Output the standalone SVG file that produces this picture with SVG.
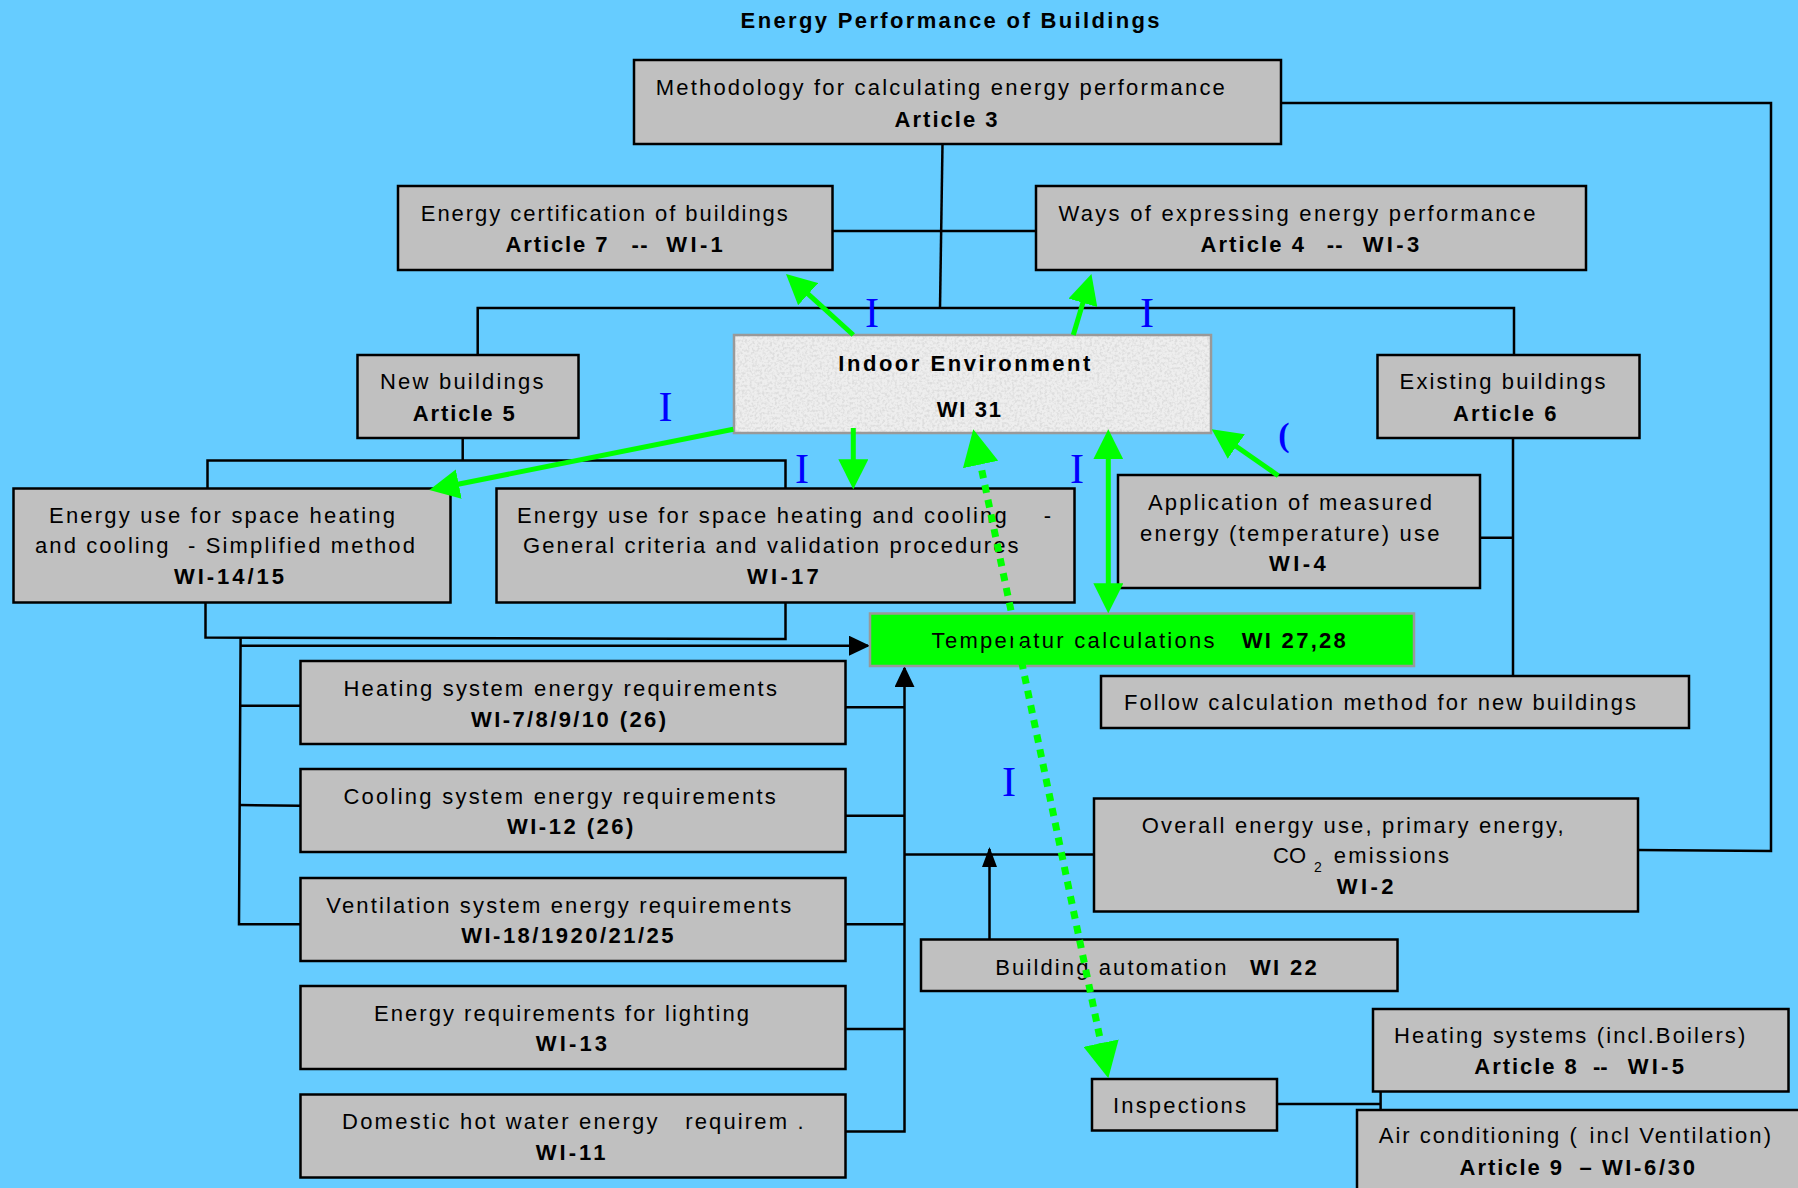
<svg xmlns="http://www.w3.org/2000/svg" width="1798" height="1188" viewBox="0 0 1798 1188">
<style>
.bg{fill:#66ccff}
.box{fill:#c0c0c0;stroke:#000;stroke-width:2.5}
.t{font-family:"Liberation Sans",Arial,sans-serif;font-size:22px;fill:#000}
.b{font-family:"Liberation Sans",Arial,sans-serif;font-size:22px;font-weight:bold;fill:#000}
.sub{font-family:"Liberation Sans",Arial,sans-serif;font-size:14px;fill:#000}
.ln{fill:none;stroke:#000;stroke-width:2.5}
.g{fill:none;stroke:#00ff00;stroke-width:5}
.gd{fill:none;stroke:#00ff00;stroke-width:7;stroke-dasharray:8 7}
.lab{font-family:"Liberation Serif","Times New Roman",serif;font-size:42px;fill:#0000ff}
</style>
<defs>
<marker id="gHead" viewBox="0 0 30 30" refX="20" refY="15" markerWidth="30" markerHeight="30" markerUnits="userSpaceOnUse" orient="auto-start-reverse"><path d="M0,0 L30,15 L0,30 z" fill="#00ff00"/></marker>
<marker id="gHeadBig" viewBox="0 0 36 36" refX="24" refY="18" markerWidth="36" markerHeight="36" markerUnits="userSpaceOnUse" orient="auto-start-reverse"><path d="M0,0 L36,18 L0,36 z" fill="#00ff00"/></marker>
<marker id="bHead" viewBox="0 0 21 20" refX="19" refY="10" markerWidth="21" markerHeight="20" markerUnits="userSpaceOnUse" orient="auto"><path d="M0,0 L21,10 L0,20 z" fill="#000"/></marker>
<marker id="bHeadS" viewBox="0 0 20 15" refX="18" refY="7.5" markerWidth="20" markerHeight="15" markerUnits="userSpaceOnUse" orient="auto"><path d="M0,0 L20,7.5 L0,15 z" fill="#000"/></marker>
<filter id="grain" x="0" y="0" width="1" height="1">
<feTurbulence type="fractalNoise" baseFrequency="0.4" numOctaves="2" seed="7" result="noise"/>
<feColorMatrix in="noise" type="matrix" values="0 0 0 0 0.72  0 0 0 0 0.72  0 0 0 0 0.72  0 0 0 -3 1.75" result="spots"/>
<feComposite in="spots" in2="SourceAlpha" operator="in"/>
</filter>
</defs>
<rect class="bg" x="0" y="0" width="1798" height="1188"/>
<text class="b" x="740.6" y="28" textLength="419">Energy Performance of Buildings</text>

<g id="connectors-black">
<polyline class="ln" points="1281,103 1771,103 1771,851 1638,850"/>
<line class="ln" x1="942.5" y1="144" x2="940" y2="308"/>
<line class="ln" x1="832.5" y1="231" x2="1036" y2="231"/>
<polyline class="ln" points="477.7,355 477.7,308 1514,308 1514,355"/>
<line class="ln" x1="462.7" y1="438" x2="462.7" y2="460.5"/>
<polyline class="ln" points="207.5,488.5 207.5,460.5 785.5,460.5 785.5,491"/>
<polyline class="ln" points="205.5,602.5 205.5,637.5 785.5,639 785.5,602.5"/>
<polyline class="ln" points="240.6,638 239,924.3 300.5,924.3"/>
<line class="ln" x1="239" y1="705.7" x2="300.5" y2="705.7"/>
<line class="ln" x1="239" y1="805" x2="300.5" y2="805.7"/>
<line class="ln" x1="240.6" y1="645.7" x2="868" y2="645.7" marker-end="url(#bHead)"/>
<polyline class="ln" points="845,1131.5 904.5,1131.5 904.5,668" marker-end="url(#bHead)"/>
<line class="ln" x1="845.5" y1="707.3" x2="904.5" y2="707.3"/>
<line class="ln" x1="843" y1="815.7" x2="904.5" y2="815.7"/>
<line class="ln" x1="845.5" y1="924.3" x2="904.5" y2="924.3"/>
<line class="ln" x1="845.5" y1="1029" x2="904.5" y2="1029"/>
<line class="ln" x1="904.5" y1="854.5" x2="1094" y2="854.5"/>
<line class="ln" x1="989.5" y1="939.5" x2="989.5" y2="849" marker-end="url(#bHeadS)"/>
<line class="ln" x1="1469.7" y1="537.7" x2="1513" y2="537.7"/>
<line class="ln" x1="1513" y1="438" x2="1513" y2="676"/>
<line class="ln" x1="1277" y1="1104" x2="1380.6" y2="1104"/>
<line class="ln" x1="1380.6" y1="1091.5" x2="1380.6" y2="1110"/>
</g>

<g id="methodology">
<rect class="box" x="634" y="60" width="647" height="84"/>
<text class="t" x="655.8" y="95" textLength="569">Methodology for calculating energy performance</text>
<text class="b" x="894.6" y="126.7" textLength="103">Article 3</text>
</g>
<g id="certification">
<rect class="box" x="398" y="186" width="434.5" height="84"/>
<text class="t" x="420.8" y="220.7" textLength="367">Energy certification of buildings</text>
<text class="b" x="505.5" y="251.7" textLength="102">Article 7</text>
<text class="b" x="631.5" y="251.7" textLength="16">--</text>
<text class="b" x="666.3" y="251.7" textLength="56.5">WI-1</text>
</g>
<g id="ways">
<rect class="box" x="1036" y="186" width="550" height="84"/>
<text class="t" x="1058.4" y="220.7" textLength="477">Ways of expressing energy performance</text>
<text class="b" x="1200.4" y="251.7" textLength="103.6">Article 4</text>
<text class="b" x="1326.7" y="251.7" textLength="16">--</text>
<text class="b" x="1362.7" y="251.7" textLength="56.6">WI-3</text>
</g>
<g id="indoor-environment">
<rect x="734" y="335" width="477" height="98" fill="#eeeeee"/>
<rect x="734" y="335" width="477" height="98" fill="#fff" filter="url(#grain)"/>
<rect x="734" y="335" width="477" height="98" fill="none" stroke="#999" stroke-width="2.5"/>
<text class="b" x="838.3" y="370.7" textLength="252">Indoor Environment</text>
<text class="b" x="936.7" y="416.7" textLength="64.3">WI 31</text>
</g>
<g id="new-buildings">
<rect class="box" x="357.5" y="355" width="221" height="83"/>
<text class="t" x="380" y="389" textLength="163.5">New buildings</text>
<text class="b" x="412.7" y="420.7" textLength="102">Article 5</text>
</g>
<g id="existing-buildings">
<rect class="box" x="1377.5" y="355" width="262" height="83"/>
<text class="t" x="1399.6" y="389" textLength="206">Existing buildings</text>
<text class="b" x="1453" y="420.7" textLength="103.6">Article 6</text>
</g>
<g id="simplified-method">
<rect class="box" x="13.5" y="488.5" width="437" height="114"/>
<text class="t" x="49" y="522.7" textLength="346">Energy use for space heating</text>
<text class="t" x="35" y="553" textLength="133.4">and cooling</text>
<text class="t" x="188" y="553" textLength="227">- Simplified method</text>
<text class="b" x="174" y="584" textLength="110">WI-14/15</text>
</g>
<g id="general-criteria">
<rect class="box" x="496.5" y="488.5" width="578" height="114"/>
<text class="t" x="517" y="522.7" textLength="489.7">Energy use for space heating and cooling</text>
<text class="t" x="1043.8" y="522.7">-</text>
<text class="t" x="523" y="553" textLength="495.6">General criteria and validation procedures</text>
<text class="b" x="747" y="584" textLength="71.7">WI-17</text>
</g>
<g id="measured-energy">
<rect class="box" x="1118" y="475" width="362" height="113"/>
<text class="t" x="1148" y="510" textLength="284">Application of measured</text>
<text class="t" x="1140" y="540.7" textLength="299.5">energy (temperature) use</text>
<text class="b" x="1269" y="571" textLength="56.8">WI-4</text>
</g>
<g id="temperatur">
<rect x="870" y="613.5" width="544" height="52.5" fill="#00ff00" stroke="#999" stroke-width="2.5"/>
<text class="t" x="931.6" y="648.3" textLength="283">Temperatur calculations</text>
<text class="b" x="1241.8" y="648.3" textLength="104">WI 27,28</text>
</g>
<g id="follow-method">
<rect class="box" x="1101" y="676" width="588" height="52"/>
<text class="t" x="1124" y="710" textLength="512">Follow calculation method for new buildings</text>
</g>
<g id="heating-system">
<rect class="box" x="300.5" y="661" width="545" height="83"/>
<text class="t" x="343.5" y="696" textLength="179.7">Heating system</text>
<text class="t" x="534" y="696" textLength="243">energy requirements</text>
<text class="b" x="471" y="726.7" textLength="195">WI-7/8/9/10 (26)</text>
</g>
<g id="cooling-system">
<rect class="box" x="300.5" y="769" width="545" height="83"/>
<text class="t" x="343.5" y="804" textLength="432.3">Cooling system energy requirements</text>
<text class="b" x="507" y="834.3" textLength="126.4">WI-12 (26)</text>
</g>
<g id="ventilation-system">
<rect class="box" x="300.5" y="878" width="545" height="83"/>
<text class="t" x="326.3" y="912.7" textLength="465">Ventilation system energy requirements</text>
<text class="b" x="461.2" y="943.3" textLength="212.4">WI-18/1920/21/25</text>
</g>
<g id="lighting">
<rect class="box" x="300.5" y="986" width="545" height="83"/>
<text class="t" x="374" y="1021" textLength="375">Energy requirements for lighting</text>
<text class="b" x="535.7" y="1051" textLength="71.4">WI-13</text>
</g>
<g id="domestic-hot-water">
<rect class="box" x="300.5" y="1094.5" width="545" height="83"/>
<text class="t" x="342" y="1129.3" textLength="315.6">Domestic hot water energy</text>
<text class="t" x="685.3" y="1129.3" textLength="101.7">requirem</text>
<text class="t" x="797.5" y="1129.3">.</text>
<text class="b" x="535.7" y="1160" textLength="69.7">WI-11</text>
</g>
<g id="overall-energy">
<rect class="box" x="1094" y="798.5" width="544" height="113"/>
<text class="t" x="1141.7" y="832.7" textLength="422">Overall energy use, primary energy,</text>
<text class="t" x="1273" y="863.3">CO</text>
<text class="sub" x="1314" y="871.7">2</text>
<text class="t" x="1333.7" y="863.3" textLength="115.3">emissions</text>
<text class="b" x="1336.7" y="894" textLength="56.8">WI-2</text>
</g>
<g id="building-automation">
<rect class="box" x="921" y="939.5" width="476.5" height="51.5"/>
<text class="t" x="995.3" y="975" textLength="231.3">Building automation</text>
<text class="b" x="1250" y="975" textLength="66.8">WI 22</text>
</g>
<g id="inspections">
<rect class="box" x="1092" y="1079" width="185" height="51.5"/>
<text class="t" x="1113" y="1113.3" textLength="133">Inspections</text>
</g>
<g id="heating-systems">
<rect class="box" x="1373" y="1009" width="415.5" height="82.5"/>
<text class="t" x="1394" y="1043.3" textLength="351.3">Heating systems (incl.Boilers)</text>
<text class="b" x="1474.3" y="1074" textLength="102.4">Article 8</text>
<text class="b" x="1593" y="1074" textLength="14.6">--</text>
<text class="b" x="1627.7" y="1074" textLength="56.2">WI-5</text>
</g>
<g id="air-conditioning">
<rect class="box" x="1357" y="1110" width="460" height="100"/>
<text class="t" x="1378.8" y="1143.3" textLength="198">Air conditioning (</text>
<text class="t" x="1589.6" y="1143.3" textLength="181.4">incl Ventilation)</text>
<text class="b" x="1459.6" y="1175" textLength="102.5">Article 9</text>
<text class="b" x="1579.6" y="1175">–</text>
<text class="b" x="1601.9" y="1175" textLength="93">WI-6/30</text>
</g>

<g id="connectors-green">
<line class="g" x1="853.3" y1="335" x2="793.4" y2="280.7" marker-end="url(#gHead)"/>
<line class="g" x1="1073.3" y1="335" x2="1088.6" y2="283.6" marker-end="url(#gHead)"/>
<line class="g" x1="733.3" y1="429.3" x2="439.1" y2="488" marker-end="url(#gHead)"/>
<line class="g" x1="853.3" y1="428" x2="853.3" y2="479.3" marker-end="url(#gHead)"/>
<line class="g" x1="1108.3" y1="439.3" x2="1108.3" y2="603.3" marker-start="url(#gHead)" marker-end="url(#gHead)"/>
<line class="g" x1="1278.3" y1="475.7" x2="1219.9" y2="435" marker-end="url(#gHead)"/>
<line class="gd" x1="975.7" y1="441" x2="1105.9" y2="1066.6" marker-start="url(#gHeadBig)" marker-end="url(#gHeadBig)"/>
</g>

<g id="labels">
<text class="lab" x="872" y="327" text-anchor="middle">I</text>
<text class="lab" x="1147" y="327" text-anchor="middle">I</text>
<text class="lab" x="665.5" y="420.7" text-anchor="middle">I</text>
<text class="lab" x="802" y="483" text-anchor="middle">I</text>
<text class="lab" x="1077" y="483" text-anchor="middle">I</text>
<text class="lab" x="1009" y="796" text-anchor="middle">I</text>
<text class="lab" x="1284" y="446" text-anchor="middle" style="font-size:34px;font-weight:bold">(</text>
</g>
</svg>
